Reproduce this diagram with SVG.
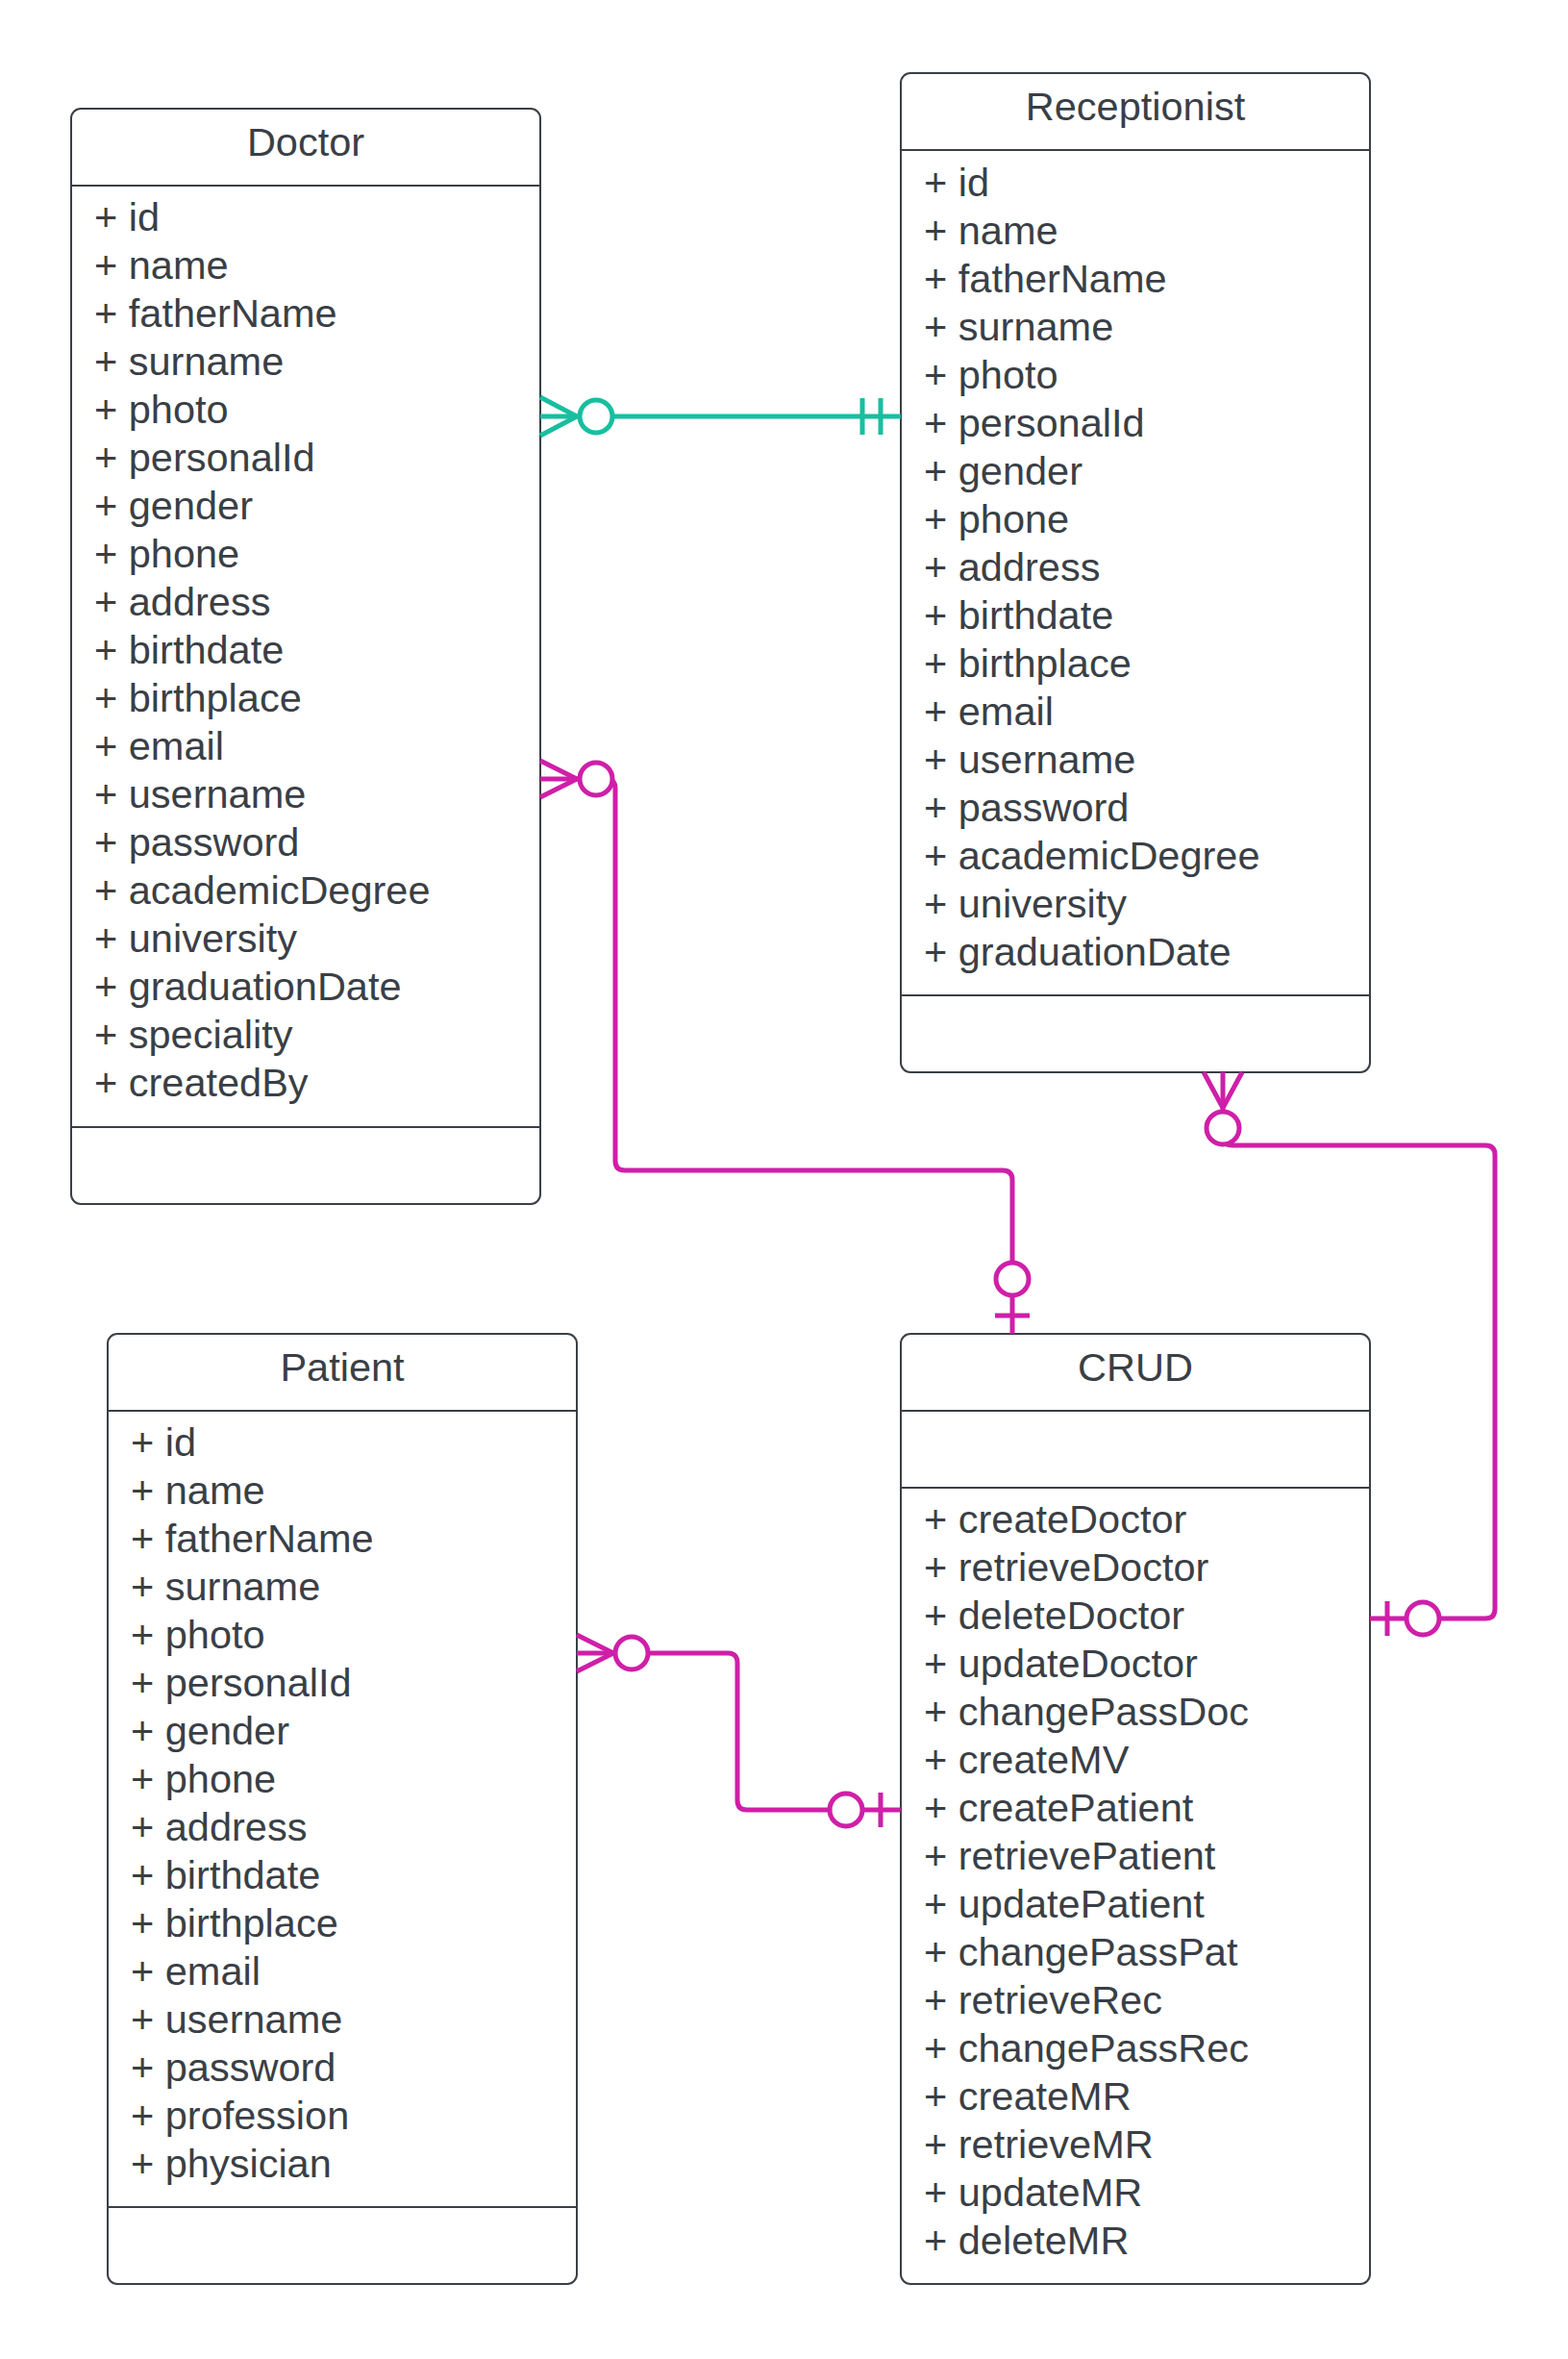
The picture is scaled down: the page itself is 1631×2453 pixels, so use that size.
<svg xmlns="http://www.w3.org/2000/svg" width="1631" height="2453" viewBox="0 0 1631 2453">
<style>
.box{fill:#ffffff;stroke:#3a3f46;stroke-width:2}
.div{stroke:#3a3f46;stroke-width:2}
.t{font-family:"Liberation Sans",Arial,sans-serif;font-size:41.5px;fill:#3a3f46}
.h{text-anchor:middle}
.teal{fill:none;stroke:#17bf9f;stroke-width:5;stroke-linecap:butt}
.mag{fill:none;stroke:#cf1fa8;stroke-width:5;stroke-linecap:butt}
.tealc{fill:#ffffff;stroke:#17bf9f;stroke-width:5}
.magc{fill:#ffffff;stroke:#cf1fa8;stroke-width:5}
</style>
<rect width="1631" height="2453" fill="#ffffff"/>
<g id="doctor">
<rect class="box" x="74" y="113" width="488" height="1139" rx="10"/>
<line class="div" x1="74" y1="193" x2="562" y2="193"/>
<line class="div" x1="74" y1="1172" x2="562" y2="1172"/>
<text class="t h" x="318" y="162">Doctor</text>
<text class="t" x="98" y="240">+ id</text>
<text class="t" x="98" y="290">+ name</text>
<text class="t" x="98" y="340">+ fatherName</text>
<text class="t" x="98" y="390">+ surname</text>
<text class="t" x="98" y="440">+ photo</text>
<text class="t" x="98" y="490">+ personalId</text>
<text class="t" x="98" y="540">+ gender</text>
<text class="t" x="98" y="590">+ phone</text>
<text class="t" x="98" y="640">+ address</text>
<text class="t" x="98" y="690">+ birthdate</text>
<text class="t" x="98" y="740">+ birthplace</text>
<text class="t" x="98" y="790">+ email</text>
<text class="t" x="98" y="840">+ username</text>
<text class="t" x="98" y="890">+ password</text>
<text class="t" x="98" y="940">+ academicDegree</text>
<text class="t" x="98" y="990">+ university</text>
<text class="t" x="98" y="1040">+ graduationDate</text>
<text class="t" x="98" y="1090">+ speciality</text>
<text class="t" x="98" y="1140">+ createdBy</text>
</g>
<g id="receptionist">
<rect class="box" x="937" y="76" width="488" height="1039" rx="10"/>
<line class="div" x1="937" y1="156" x2="1425" y2="156"/>
<line class="div" x1="937" y1="1035" x2="1425" y2="1035"/>
<text class="t h" x="1181" y="125">Receptionist</text>
<text class="t" x="961" y="204">+ id</text>
<text class="t" x="961" y="254">+ name</text>
<text class="t" x="961" y="304">+ fatherName</text>
<text class="t" x="961" y="354">+ surname</text>
<text class="t" x="961" y="404">+ photo</text>
<text class="t" x="961" y="454">+ personalId</text>
<text class="t" x="961" y="504">+ gender</text>
<text class="t" x="961" y="554">+ phone</text>
<text class="t" x="961" y="604">+ address</text>
<text class="t" x="961" y="654">+ birthdate</text>
<text class="t" x="961" y="704">+ birthplace</text>
<text class="t" x="961" y="754">+ email</text>
<text class="t" x="961" y="804">+ username</text>
<text class="t" x="961" y="854">+ password</text>
<text class="t" x="961" y="904">+ academicDegree</text>
<text class="t" x="961" y="954">+ university</text>
<text class="t" x="961" y="1004">+ graduationDate</text>
</g>
<g id="patient">
<rect class="box" x="112" y="1387" width="488" height="988" rx="10"/>
<line class="div" x1="112" y1="1467" x2="600" y2="1467"/>
<line class="div" x1="112" y1="2295" x2="600" y2="2295"/>
<text class="t h" x="356" y="1436">Patient</text>
<text class="t" x="136" y="1514">+ id</text>
<text class="t" x="136" y="1564">+ name</text>
<text class="t" x="136" y="1614">+ fatherName</text>
<text class="t" x="136" y="1664">+ surname</text>
<text class="t" x="136" y="1714">+ photo</text>
<text class="t" x="136" y="1764">+ personalId</text>
<text class="t" x="136" y="1814">+ gender</text>
<text class="t" x="136" y="1864">+ phone</text>
<text class="t" x="136" y="1914">+ address</text>
<text class="t" x="136" y="1964">+ birthdate</text>
<text class="t" x="136" y="2014">+ birthplace</text>
<text class="t" x="136" y="2064">+ email</text>
<text class="t" x="136" y="2114">+ username</text>
<text class="t" x="136" y="2164">+ password</text>
<text class="t" x="136" y="2214">+ profession</text>
<text class="t" x="136" y="2264">+ physician</text>
</g>
<g id="crud">
<rect class="box" x="937" y="1387" width="488" height="988" rx="10"/>
<line class="div" x1="937" y1="1467" x2="1425" y2="1467"/>
<line class="div" x1="937" y1="1547" x2="1425" y2="1547"/>
<text class="t h" x="1181" y="1436">CRUD</text>
<text class="t" x="961" y="1594">+ createDoctor</text>
<text class="t" x="961" y="1644">+ retrieveDoctor</text>
<text class="t" x="961" y="1694">+ deleteDoctor</text>
<text class="t" x="961" y="1744">+ updateDoctor</text>
<text class="t" x="961" y="1794">+ changePassDoc</text>
<text class="t" x="961" y="1844">+ createMV</text>
<text class="t" x="961" y="1894">+ createPatient</text>
<text class="t" x="961" y="1944">+ retrievePatient</text>
<text class="t" x="961" y="1994">+ updatePatient</text>
<text class="t" x="961" y="2044">+ changePassPat</text>
<text class="t" x="961" y="2094">+ retrieveRec</text>
<text class="t" x="961" y="2144">+ changePassRec</text>
<text class="t" x="961" y="2194">+ createMR</text>
<text class="t" x="961" y="2244">+ retrieveMR</text>
<text class="t" x="961" y="2294">+ updateMR</text>
<text class="t" x="961" y="2344">+ deleteMR</text>
</g>
<g id="connectors">
<g id="doctor-receptionist">
<path class="teal" d="M562 433 H937"/>
<path class="teal" d="M562 413 L600 433 L562 453"/>
<circle class="tealc" cx="620" cy="433" r="17"/>
<path class="teal" d="M897 414 V452 M916 414 V452"/>
</g>
<g id="doctor-crud">
<path class="mag" d="M562 810 H630 Q640 810 640 820 V1207 Q640 1217 650 1217 H1043 Q1053 1217 1053 1227 V1387"/>
<path class="mag" d="M562 791 L600 810 L562 829"/>
<circle class="magc" cx="620" cy="810" r="17"/>
<circle class="magc" cx="1053" cy="1330" r="17"/>
<path class="mag" d="M1035 1368 H1071"/>
</g>
<g id="receptionist-crud">
<path class="mag" d="M1272 1115 V1181 Q1272 1191 1282 1191 H1545 Q1555 1191 1555 1201 V1673 Q1555 1683 1545 1683 H1425"/>
<path class="mag" d="M1252 1115 L1272 1152 L1292 1115"/>
<circle class="magc" cx="1272" cy="1173" r="17"/>
<circle class="magc" cx="1480" cy="1683" r="17"/>
<path class="mag" d="M1443 1665 V1701"/>
</g>
<g id="patient-crud">
<path class="mag" d="M600 1719 H757 Q767 1719 767 1729 V1872 Q767 1882 777 1882 H937"/>
<path class="mag" d="M600 1700 L638 1719 L600 1738"/>
<circle class="magc" cx="657" cy="1719" r="17"/>
<circle class="magc" cx="880" cy="1882" r="17"/>
<path class="mag" d="M916 1864 V1900"/>
</g>
</g>
</svg>
